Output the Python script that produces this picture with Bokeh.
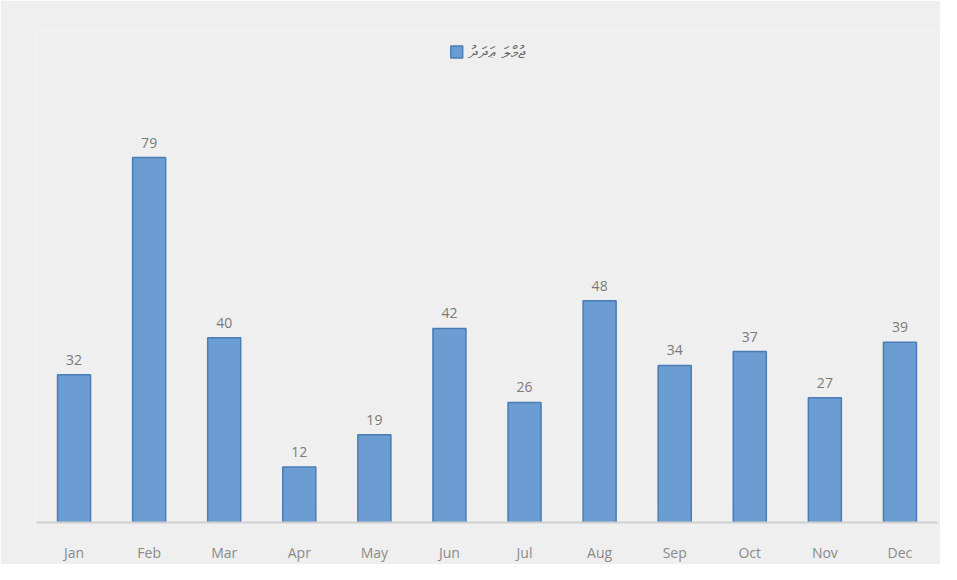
from bokeh.plotting import figure
from bokeh.models import ColumnDataSource, Range1d, Legend, LegendItem
from bokeh.core.properties import value
from bokeh.embed import file_html
from bokeh.resources import INLINE

months = ["Jan", "Feb", "Mar", "Apr", "May", "Jun", "Jul", "Aug", "Sep", "Oct", "Nov", "Dec"]
counts = [32, 79, 40, 12, 19, 42, 26, 48, 34, 37, 27, 39]
series_name = "ޖުމްލަ ޢަދަދު"

src = ColumnDataSource(dict(m=months, v=counts, lab=[str(c) for c in counts]))

bg = "#efefef"
p = figure(x_range=months, y_range=Range1d(0, 106.5), width=940, height=564,
           output_backend="svg", toolbar_location=None,
           min_border_left=36, min_border_right=3, min_border_top=30, min_border_bottom=41)
p.background_fill_color = bg
p.border_fill_color = bg
p.outline_line_color = None

r = p.vbar(x="m", top="v", width=0.44, source=src, fill_color="#6b9cd2", line_color="#4a7db5", line_width=1.5)
p.text(x="m", y="v", text="lab", source=src, text_align="center", text_baseline="bottom",
       y_offset=-10, text_color="#7a7a7a", text_font_size="14px", text_font=value("Open Sans"))

p.xgrid.grid_line_color = None
p.ygrid.grid_line_color = None
p.yaxis.visible = False
p.xaxis.axis_line_color = "#d0d0d0"
p.xaxis.axis_line_width = 2
p.xaxis.major_tick_line_color = None
p.xaxis.minor_tick_line_color = None
p.xaxis.major_label_text_color = "#8a8a8a"
p.xaxis.major_label_text_font = "Open Sans"
p.xaxis.major_label_text_font_size = "14px"
p.xaxis.major_label_standoff = 14
p.x_range.range_padding = 0

legend = Legend(items=[LegendItem(label=series_name, renderers=[r])], location="top_center",
                orientation="horizontal", background_fill_alpha=0, border_line_color=None,
                label_text_color="#6a6a6a", label_text_font_size="17px", glyph_width=15, glyph_height=15,
                label_text_font="Noto Sans", margin=10)
p.add_layout(legend, "center")

open("out.html", "w").write(file_html(p, INLINE))
